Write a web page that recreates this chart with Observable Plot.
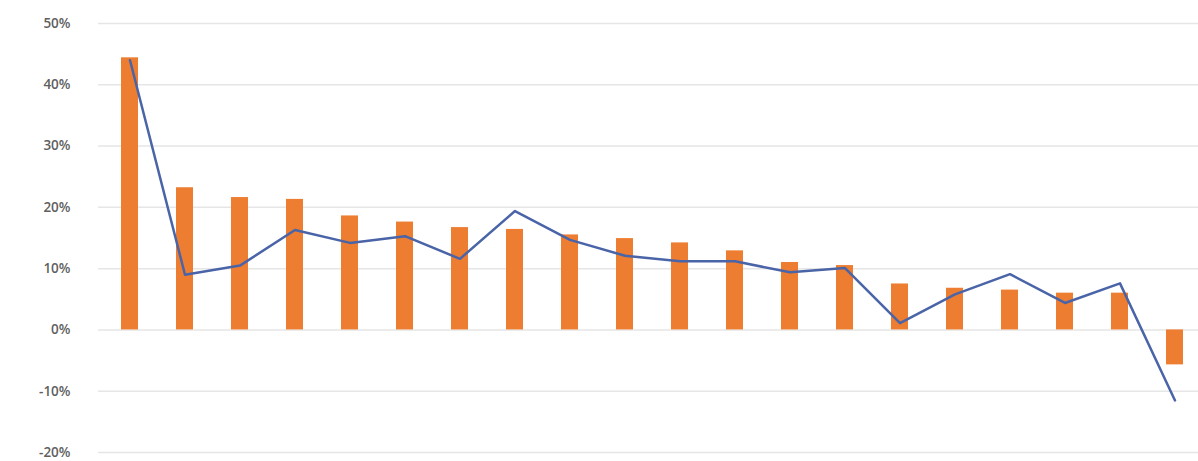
<!DOCTYPE html>
<html>
<head>
<meta charset="utf-8">
<script src="https://cdn.jsdelivr.net/npm/d3@7"></script>
<script src="https://cdn.jsdelivr.net/npm/@observablehq/plot@0.6"></script>
<style>
  html, body { margin: 0; padding: 0; background: #fff; }
  #chart svg { display: block; }
</style>
</head>
<body>
<div id="chart"></div>
<script>
const categories = ["1","2","3","4","5","6","7","8","9","10","11","12","13","14","15","16","17","18","19","20"];
const barValues = [0.444, 0.232, 0.216, 0.213, 0.186, 0.176, 0.167, 0.164, 0.155, 0.149, 0.142, 0.129, 0.110, 0.105, 0.075, 0.068, 0.065, 0.060, 0.060, -0.057];
const lineValues = [0.440, 0.090, 0.105, 0.163, 0.142, 0.153, 0.116, 0.194, 0.147, 0.121, 0.112, 0.112, 0.094, 0.101, 0.011, 0.058, 0.091, 0.044, 0.076, -0.115];
const yTicks = [-0.2, -0.1, 0, 0.1, 0.2, 0.3, 0.4, 0.5];

const data = categories.map((c, i) => ({cat: c, bar: barValues[i], line: lineValues[i]}));

const chart = Plot.plot({
  width: 1198,
  height: 461,
  marginTop: 23,
  marginBottom: 9,
  marginLeft: 98,
  marginRight: 0,
  style: {fontFamily: "'Open Sans', sans-serif", fontSize: "13.5px", color: "#5f5f5f"},
  x: {domain: categories, range: [102, 1202], padding: 0.69, paddingOuter: 0.283, axis: null},
  y: {domain: [-0.2, 0.5], ticks: yTicks, tickFormat: d => Math.round(d * 100) + "%"},
  marks: [
    Plot.gridY(yTicks, {stroke: "#e6e6e6", strokeOpacity: 1, strokeWidth: 1.5}),
    Plot.axisY(yTicks, {tickSize: 0, tickPadding: 28, fontWeight: "600", fill: "#5f5f5f", tickFormat: d => Math.round(d * 100) + "%"}),
    Plot.barY(data, {x: "cat", y: "bar", fill: "#ED7D31"}),
    Plot.lineY(data, {x: "cat", y: "line", stroke: "#4a64a8", strokeWidth: 2.5, strokeLinejoin: "round"})
  ]
});
document.getElementById("chart").appendChild(chart);
</script>
</body>
</html>
